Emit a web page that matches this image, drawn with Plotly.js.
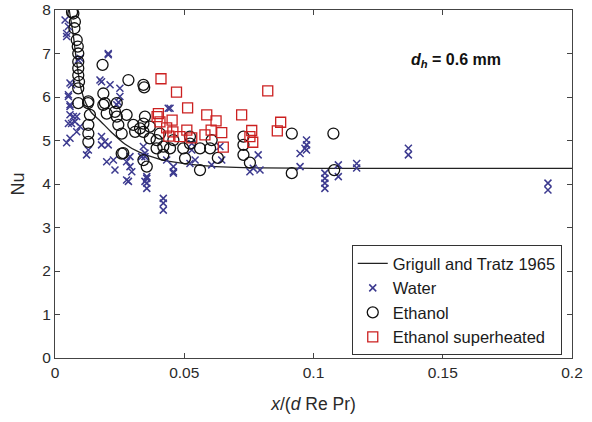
<!DOCTYPE html>
<html><head><meta charset="utf-8">
<script src="https://cdn.plot.ly/plotly-3.0.1.min.js"></script>
<style>html,body{margin:0;padding:0;background:#fff}#chart{width:592px;height:422px}</style>
</head><body><div id="chart"></div>
<script>
// Grigull and Tratz 1965 correlation
const lineX = [0.0055,0.007,0.0085,0.01,0.012,0.014,0.0175,0.022,0.027,0.033,0.04,0.05,0.06,0.07,0.08,0.1,0.15,0.2];
const lineNu = [8.0,7.45,6.75,6.2,5.85,5.65,5.45,5.18,4.92,4.72,4.58,4.47,4.41,4.38,4.37,4.36,4.36,4.36];

// Water
const waterX = [0.0039,0.0045,0.0052,0.0045,0.009,0.0097,0.0206,0.0206,0.0058,0.0064,0.0052,0.0052,0.0174,0.018,0.0213,0.0251,0.0251,0.0245,0.0239,0.0438,
  0.0058,0.0058,0.0058,0.0084,0.0064,0.0052,0.0077,0.0097,0.0071,0.0084,0.0129,0.0122,0.018,0.0193,0.018,0.0206,0.02,0.0226,0.0232,0.0277,
  0.029,0.029,0.0297,0.0277,0.0342,0.0348,0.0348,0.0284,0.0355,0.0355,0.0355,0.0419,0.0419,0.0419,0.0458,0.0458,0.0445,0.0335,0.0348,0.0355,
  0.0432,0.0458,0.0522,0.0542,0.0529,0.0529,0.0638,0.0645,0.0606,0.0786,0.0767,0.0793,0.0754,0.0948,0.0948,0.0967,0.0973,0.0973,0.0973,0.1044,
  0.1044,0.1044,0.1044,0.1096,0.1096,0.1167,0.1167,0.1367,0.1367,0.1907,0.1907,0.0058,0.0045];
const waterNu = [7.77,7.46,7.62,7.39,6.85,6.89,7.0,6.97,6.32,6.28,6.05,6.01,6.39,6.35,6.28,6.2,6.01,5.88,5.82,5.74,
  5.82,5.78,5.59,5.55,5.39,5.39,5.43,5.32,5.55,5.2,4.78,4.67,5.09,4.97,4.9,4.9,4.51,4.55,4.32,4.51,
  4.63,4.4,4.28,4.09,4.86,4.71,4.06,4.06,4.17,4.02,3.9,3.67,3.56,3.4,4.4,4.25,5.74,4.63,4.63,4.13,
  4.55,4.28,4.47,4.55,4.93,4.78,4.86,4.55,4.44,4.67,4.36,4.32,4.28,4.7,4.4,4.82,5.01,4.9,4.78,4.25,
  4.13,4.02,3.9,4.44,4.17,4.47,4.37,4.82,4.67,4.02,3.86,5.05,4.95];

// Ethanol
const ethX = [0.0066,0.0071,0.0077,0.0075,0.0084,0.0088,0.009,0.009,0.009,0.009,0.0093,0.009,0.0184,0.0284,0.0345,0.0187,0.0187,0.009,0.0129,0.0232,
  0.0128,0.0193,0.0239,0.0135,0.02,0.0129,0.0129,0.0129,0.0239,0.0245,0.0258,0.0277,0.0303,0.031,0.0329,0.0264,0.0258,0.0355,
  0.0342,0.0348,0.0342,0.0367,0.0342,0.0367,0.0393,0.0393,0.0419,0.0445,0.0419,0.0496,0.0522,0.0522,0.0561,0.0503,0.06,0.0606,0.0561,0.0342,
  0.0458,0.0406,0.0729,0.0729,0.0729,0.0754,0.0916,0.0916,0.1077,0.108,0.063];
const ethNu = [7.95,7.92,7.73,7.58,7.31,7.16,7.0,6.81,6.66,6.5,6.35,6.2,6.74,6.39,6.22,6.08,5.82,5.86,5.9,5.66,
  5.86,5.86,5.86,5.59,5.62,5.36,5.16,4.97,5.55,5.36,5.16,5.59,5.36,5.2,5.28,4.71,4.7,4.4,
  6.28,5.55,5.39,5.32,5.2,5.05,5.01,4.82,4.86,4.82,4.67,4.82,4.93,5.09,4.82,4.59,4.82,5.01,4.32,4.55,
  5.01,5.16,4.9,5.09,4.67,4.49,5.16,4.25,5.16,4.32,4.6];

// Ethanol superheated
const supX = [0.041,0.047,0.0513,0.040,0.0587,0.0722,0.0823,0.0873,0.0406,0.0453,0.0623,0.0432,0.0456,0.051,0.0483,0.0529,0.058,0.0604,0.0645,0.0651,0.0761,0.0754,0.0765,0.086,0.0395,0.044];
const supNu = [6.42,6.11,5.75,5.62,5.59,5.59,6.14,5.42,5.43,5.47,5.45,5.29,5.2,5.24,5.09,5.06,5.13,5.24,5.18,4.85,5.23,5.09,4.96,5.22,5.55,5.1];

const xTicks = [0, 0.05, 0.1, 0.15, 0.2];
const xTickText = ['0', '0.05', '0.1', '0.15', '0.2'];

const FONT = 'Liberation Sans, Arial, sans-serif';
const traces = [
  {x: lineX, y: lineNu, mode: 'lines', name: 'Grigull and Tratz 1965', line: {color: '#222', width: 1.3, shape: 'spline', smoothing: 0.8}},
  {x: waterX, y: waterNu, mode: 'markers', name: 'Water', marker: {symbol: 'x-thin-open', size: 7, color: '#3c3a8f', line: {color: '#3c3a8f', width: 1.5}}},
  {x: ethX, y: ethNu, mode: 'markers', name: 'Ethanol', marker: {symbol: 'circle-open', size: 11, color: '#111', line: {color: '#111', width: 1.3}}},
  {x: supX, y: supNu, mode: 'markers', name: 'Ethanol superheated', marker: {symbol: 'square-open', size: 10, color: '#cc2020', line: {color: '#cc2020', width: 1.3}}}
];
const layout = {
  width: 592, height: 422,
  margin: {l: 55, r: 20, t: 10, b: 64},
  paper_bgcolor: '#fff', plot_bgcolor: '#fff',
  font: {family: FONT, size: 15, color: '#2a2a2a'},
  showlegend: true,
  legend: {x: 0.574, y: 0.008, xanchor: 'left', yanchor: 'bottom', bgcolor: '#fff', bordercolor: '#333', borderwidth: 1,
    font: {family: FONT, size: 16.5, color: '#1a1a1a'}, tracegroupgap: 0, itemwidth: 30},
  xaxis: {range: [0, 0.2], tickvals: xTicks, ticktext: xTickText,
    ticks: 'inside', ticklen: 5, tickcolor: '#444', showline: true, linecolor: '#444', linewidth: 1, mirror: 'ticks',
    showgrid: false, zeroline: false, tickfont: {family: FONT, size: 15.5, color: '#2a2a2a'},
    title: {text: '<i>x</i>/(<i>d</i> Re Pr)', font: {family: FONT, size: 17.5, color: '#2a2a2a'}, standoff: 18}},
  yaxis: {range: [0, 8], dtick: 1, ticks: 'inside', ticklen: 5, tickcolor: '#444', showline: true, linecolor: '#444', linewidth: 1, mirror: 'ticks',
    showgrid: false, zeroline: false, tickfont: {family: FONT, size: 15.5, color: '#2a2a2a'},
    title: {text: 'Nu', font: {family: FONT, size: 18, color: '#2a2a2a'}, standoff: 12}},
  annotations: [{xref: 'paper', yref: 'paper', x: 0.775, y: 0.855, xanchor: 'center', yanchor: 'middle', showarrow: false,
    text: '<b><i>d<sub>h</sub></i> = 0.6 mm</b>', font: {family: FONT, size: 16, color: '#111'}}]
};
Plotly.newPlot('chart', traces, layout, {displayModeBar: false, staticPlot: true});
</script></body></html>
